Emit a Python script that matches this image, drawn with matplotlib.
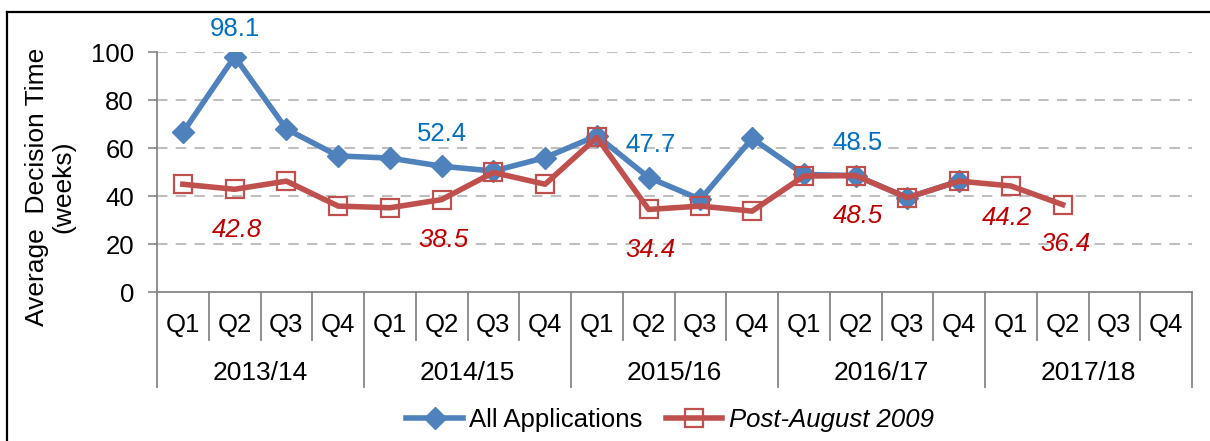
import numpy as np
import matplotlib
matplotlib.use("Agg")
import matplotlib.pyplot as plt
from matplotlib.lines import Line2D
import matplotlib.transforms as mtransforms

plt.rcParams['font.family'] = ['Liberation Sans', 'DejaVu Sans']

years = ["2013/14", "2014/15", "2015/16", "2016/17", "2017/18"]
quarters = ["Q1", "Q2", "Q3", "Q4"]

all_apps = [66.5, 98.1, 67.9, 56.7, 55.8, 52.4, 50.4, 56.0, 65.1, 47.7,
            38.6, 64.0, 49.0, 48.5, 39.3, 46.2, np.nan, np.nan, np.nan, np.nan]
post_aug = [44.9, 42.8, 46.2, 35.8, 35.1, 38.5, 49.8, 44.9, 64.4, 34.4,
            35.8, 33.7, 48.3, 48.5, 39.3, 46.2, 44.2, 36.4, np.nan, np.nan]

# indices of labelled points
blue_label_idx = [1, 5, 9, 13]
red_label_idx = [1, 5, 9, 13, 16, 17]

BLUE = "#4F81BD"
RED = "#C0504D"
BLUE_TXT = "#0070C0"
RED_TXT = "#C00000"

W, H = 1210, 441
fig = plt.figure(figsize=(W / 100, H / 100), dpi=100)
ax = fig.add_axes([157 / W, 1 - 292 / H, (1192 - 157) / W, (292 - 52) / H])

n = len(years) * len(quarters)
x = np.arange(n) + 0.5

ax.plot(x, all_apps, color=BLUE, lw=4, marker='D', ms=11,
        mfc=BLUE, mec=BLUE, label="All Applications", zorder=3)
ax.plot(x, post_aug, color=RED, lw=4, marker='s', ms=13.5,
        mfc='none', mec=RED, mew=1.6, label="Post-August 2009", zorder=4)

ax.set_xlim(0, n)
ax.set_ylim(0, 100)
ax.set_yticks([0, 20, 40, 60, 80, 100])
ax.tick_params(axis='y', labelsize=18.5, length=6.5, width=1.2, color='#868686', pad=10)
ax.set_xticks([])
for s in ['top', 'right']:
    ax.spines[s].set_visible(False)
for s in ['left', 'bottom']:
    ax.spines[s].set_color('#868686')
    ax.spines[s].set_linewidth(1.3)

for v in [20, 40, 60, 80, 100]:
    ax.axhline(v, color='#BFBFBF', lw=1.5, ls=(0, (5, 4)), zorder=1)

trans = mtransforms.blended_transform_factory(ax.transData, ax.transAxes)
ax_h = 240.0
q_bottom = -48 / ax_h
y_bottom = -95 / ax_h
for i in range(n + 1):
    yb = y_bottom if i % 4 == 0 else q_bottom
    ax.add_line(Line2D([i, i], [0, yb], transform=trans, color='#868686',
                       lw=1.3, clip_on=False))
for i in range(n):
    ax.text(i + 0.5, -33 / ax_h, quarters[i % 4], transform=trans,
            ha='center', va='center', fontsize=18.5)
for j, yr in enumerate(years):
    ax.text(j * 4 + 2, -81 / ax_h, yr, transform=trans,
            ha='center', va='center', fontsize=19)

# data labels
blue_offsets = {1: (0, 19.5), 5: (0.5, 23.5), 9: (1, 23.5), 13: (1, 23.5)}
for i in blue_label_idx:
    dx, dy = blue_offsets[i]
    ax.annotate(f"{all_apps[i]:.1f}", (x[i], all_apps[i]), xytext=(dx, dy),
                textcoords='offset points', ha='center', va='center',
                fontsize=18.5, color=BLUE_TXT)
red_offsets = {1: (1.5, -29), 5: (1.5, -29), 9: (1.5, -29), 13: (1.5, -29),
               16: (-3, -23), 17: (2, -28.5)}
for i in red_label_idx:
    dx, dy = red_offsets[i]
    ax.annotate(f"{post_aug[i]:.1f}", (x[i], post_aug[i]), xytext=(dx, dy),
                textcoords='offset points', ha='center', va='center',
                fontsize=18.5, color=RED_TXT, style='italic')

fig.text(50 / W, 1 - 187 / H, "Average  Decision Time\n(weeks)", rotation=90,
         ha='center', va='center', fontsize=19, multialignment='center',
         linespacing=1.1)

handles, labels = ax.get_legend_handles_labels()
leg = fig.legend(handles, labels, loc='center', bbox_to_anchor=(670 / W, 1 - 420 / H),
                 ncol=2, frameon=False, fontsize=18.5, handlelength=2.2,
                 handletextpad=0.25, columnspacing=0.9, borderpad=0)
leg.get_texts()[1].set_style('italic')

# outer frame (left and top edges visible)
fig.add_artist(Line2D([7 / W, 7 / W], [0, 1 - 12 / H], transform=fig.transFigure,
                      color='black', lw=1.6))
fig.add_artist(Line2D([7 / W, 1], [1 - 12 / H, 1 - 12 / H], transform=fig.transFigure,
                      color='black', lw=1.6))

fig.savefig("out.png", dpi=100)
